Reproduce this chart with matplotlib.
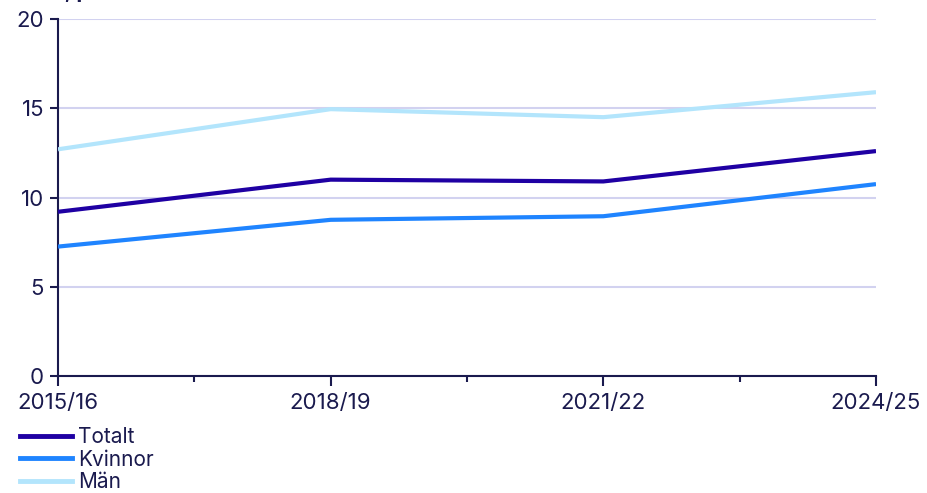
import matplotlib.pyplot as plt
from matplotlib.lines import Line2D

plt.rcParams['font.family'] = ['Inter', 'DejaVu Sans']

periods = ['2015/16', '2018/19', '2021/22', '2024/25']
totalt = [9.2, 11.0, 10.9, 12.6]
kvinnor = [7.25, 8.75, 8.95, 10.75]
man = [12.7, 14.95, 14.5, 15.9]

navy = '#1a1a4e'
series = [('Totalt', totalt, '#1f00a3'),
          ('Kvinnor', kvinnor, '#1f84ff'),
          ('Män', man, '#b3e5fc')]

fig = plt.figure(figsize=(9.27, 4.93), dpi=100)
ax = fig.add_axes([58 / 927, 1 - 376 / 493, (876 - 58) / 927, (376 - 19) / 493])

x = list(range(len(periods)))
for name, vals, col in series:
    ax.plot(x, vals, color=col, lw=3, label=name, solid_capstyle='butt', zorder=3)

ax.set_xlim(0, 3)
ax.set_ylim(0, 20)
ax.set_yticks([0, 5, 10, 15, 20])
ax.set_xticks(x)
ax.set_xticklabels(periods)
ax.set_xticks([0.5, 1.5, 2.5], minor=True)
ax.grid(axis='y', color='#d2d2f0', lw=1.5, zorder=0)
ax.set_axisbelow(True)

for s in ['top', 'right']:
    ax.spines[s].set_visible(False)
for s in ['left', 'bottom']:
    ax.spines[s].set_color(navy)
    ax.spines[s].set_linewidth(1.5)
ax.tick_params(axis='both', colors=navy, labelsize=16, width=1.5)
ax.tick_params(axis='y', length=6, pad=4)
ax.tick_params(axis='x', which='major', length=7, pad=5)
ax.tick_params(axis='x', which='minor', length=4, width=1.5, colors=navy)

fig.text(0.005, 1 + 1.5 / 493, 'Andel, procent', fontsize=15, fontweight='bold',
         color=navy, va='baseline', ha='left')

handles = [Line2D([], [], color=c, lw=3.5) for _, _, c in series]
fig.legend(handles, [n for n, _, _ in series], loc='upper left',
           bbox_to_anchor=(20 / 927, 1 - 427 / 493), frameon=False,
           fontsize=15, labelcolor=navy, handlelength=2.5, handletextpad=0.3,
           labelspacing=0.12, borderaxespad=0, borderpad=0)

fig.savefig('out.png', dpi=100)
